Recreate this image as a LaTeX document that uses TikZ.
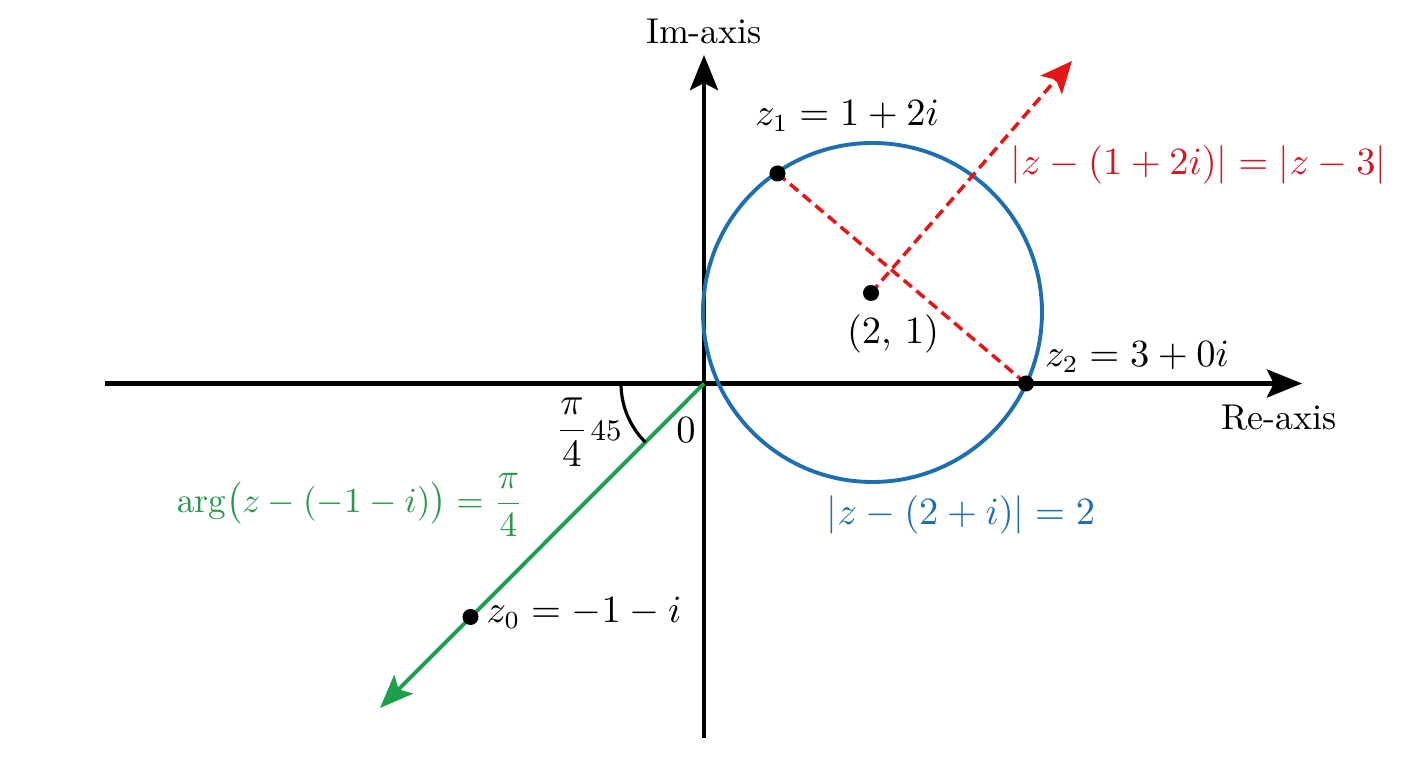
\documentclass[tikz,border=0pt]{standalone}
\usepackage{amsmath}
\usetikzlibrary{arrows.meta}
\definecolor{cblue}{RGB}{30,110,178}
\definecolor{cred}{RGB}{228,22,22}
\definecolor{credtxt}{RGB}{206,24,34}
\definecolor{cgreen}{RGB}{30,160,72}
\definecolor{cgreentxt}{RGB}{38,152,72}
\tikzset{
  axisline/.style={line width=1.15pt, -{Stealth[length=10pt,width=8pt,inset=2pt]}},
  circline/.style={cblue, line width=1.1pt},
  reddash/.style={cred, line width=1pt, dash pattern=on 3pt off 1.7pt},
  greenline/.style={cgreen, line width=1.1pt},
  dotnode/.style={circle, fill=black, inner sep=0pt, minimum size=0.16cm},
  mathlbl/.style={inner sep=0pt, font=\fontsize{10.7pt}{13pt}\selectfont},
  txtlbl/.style={inner sep=0pt, font=\fontsize{10.2pt}{12pt}\selectfont},
}
\begin{document}
\begin{tikzpicture}[x=0.01cm, y=-0.01cm]
\useasboundingbox (0,0) rectangle (1408,768);
% key points
\coordinate (O) at (704,383.5);
\coordinate (xl) at (105,383.5);
\coordinate (xr) at (1302,383.5);
\coordinate (yb) at (704,738);
\coordinate (yt) at (704,55);
\coordinate (cc) at (871,293);
\coordinate (cz1) at (777.5,173.5);
\coordinate (cz2) at (1026,383.5);
\coordinate (cz0) at (470.5,617);
\coordinate (rtip) at (1072,61);
\coordinate (gtip) at (380,708);
\coordinate (ccirc) at (872.5,312.5);
% axes
\draw[axisline] (xl) -- (xr);
\draw[axisline] (yb) -- (yt);
% circle
\draw[circline] (ccirc) circle[radius=169.5];
% red dashed lines
\draw[reddash] (cz1) -- (cz2);
\draw[reddash, -{Stealth[length=9pt,width=8pt,inset=2pt]}] (cc) -- (rtip);
% green ray
\draw[greenline, -{Stealth[length=9.5pt,width=7.5pt,inset=2pt]}] (O) -- (gtip);
% angle arc
\draw[line width=0.9pt] ([shift={(180:83)}]O) arc[start angle=180, end angle=135, radius=83];
% dots
\node[dotnode] (dc) at (cc) {};
\node[dotnode] (dz1) at (cz1) {};
\node[dotnode] (dz2) at (cz2) {};
\node[dotnode] (dz0) at (cz0) {};
% labels
\node[txtlbl] (imlbl) at (704,31) {Im-axis};
\node[txtlbl] (relbl) at (1279,418) {Re-axis};
\node[mathlbl] (z1lbl) at (847,116) {$z_1 = 1 + 2i$};
\node[mathlbl] (clbl) at (893,334) {$(2,\,1)$};
\node[mathlbl] (z2lbl) at (1137,357) {$z_2 = 3 + 0i$};
\node[mathlbl] (zerolbl) at (686,430) {$0$};
\node[mathlbl] (pilbl) at (572,432) {$\dfrac{\pi}{4}$};
\node[inner sep=0pt, font=\fontsize{8.5pt}{10pt}\selectfont] (deglbl) at (606,431) {45};
\node[mathlbl] (z0lbl) at (584,613) {$z_0 = -1 - i$};
\node[mathlbl, text=cblue] (bluelbl) at (961,515) {$|z - (2 + i)| = 2$};
\node[mathlbl, text=credtxt] (redlbl) at (1198.5,165) {$|z - (1 + 2i)| = |z - 3|$};
\node[inner sep=0pt, font=\fontsize{10.2pt}{12.5pt}\selectfont, text=cgreentxt] (greenlbl) at (350,505) {$\arg\!\big(z - (-1 - i)\big) = \dfrac{\pi}{4}$};
\end{tikzpicture}
\end{document}
